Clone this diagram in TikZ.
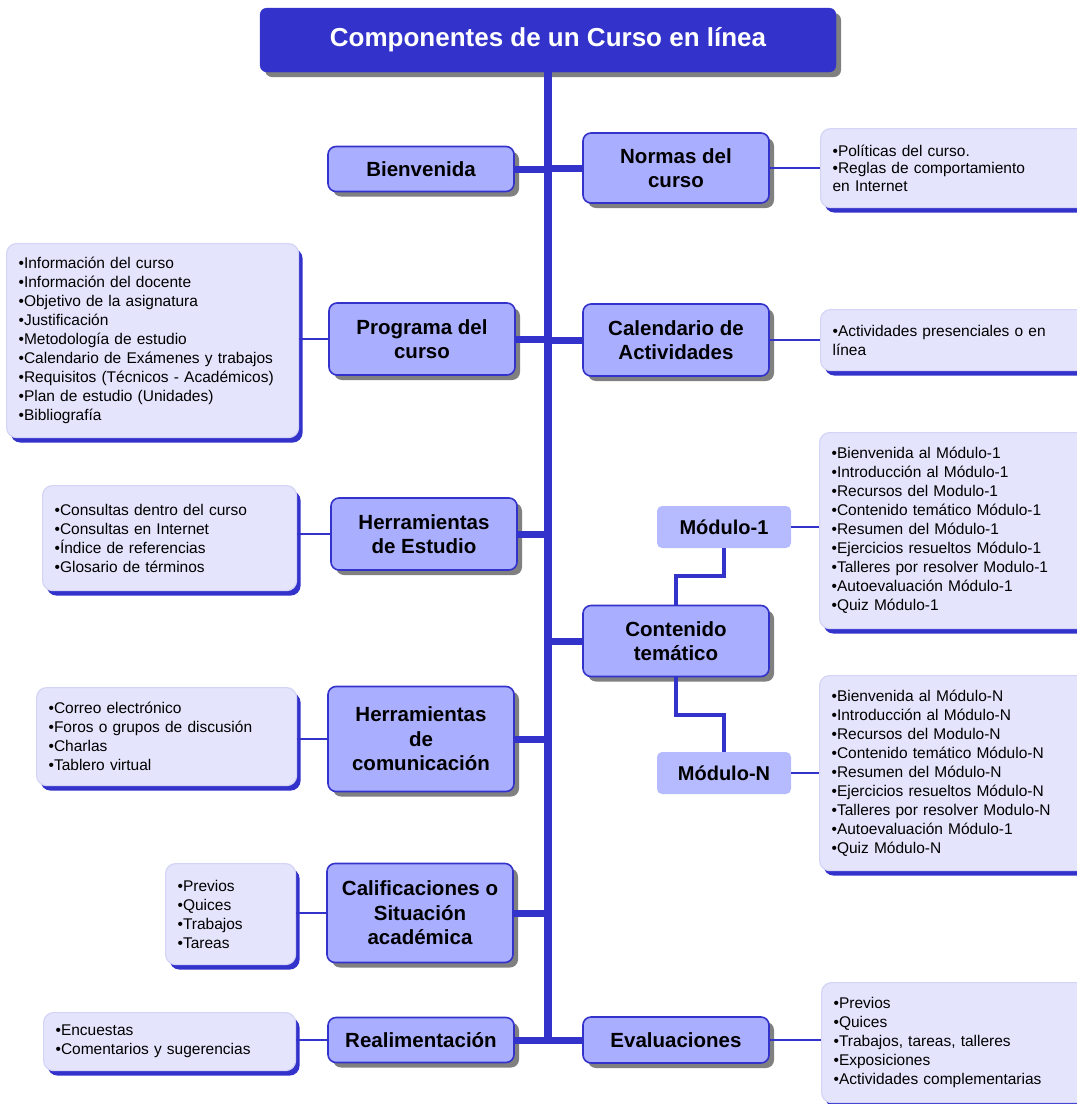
\documentclass[tikz,border=0pt]{standalone}
\usepackage{fontspec}
\setmainfont{Liberation Sans}
\usetikzlibrary{shadows,calc}

\definecolor{tblue}{RGB}{51,51,204}
\definecolor{mainfill}{RGB}{170,174,255}
\definecolor{modfill}{RGB}{182,186,255}
\definecolor{infofill}{RGB}{228,228,252}
\definecolor{infoline}{RGB}{212,212,246}
\definecolor{shadowgray}{RGB}{128,128,128}

\tikzset{
    titlebox/.style={fill=tblue, draw=tblue, rounded corners=7pt, text=white,
        minimum width=576pt, minimum height=64pt,
        font=\fontsize{26}{30}\selectfont\bfseries,
        drop shadow={shadow xshift=5pt, shadow yshift=-5pt, fill=shadowgray, opacity=1}},
    mainbox/.style={draw=tblue, line width=1.6pt, fill=mainfill, rounded corners=8pt,
        align=center, minimum width=186pt, inner sep=4pt,
        font=\fontsize{20.5}{24.5}\selectfont\bfseries,
        drop shadow={shadow xshift=5pt, shadow yshift=-5pt, fill=shadowgray, opacity=1}},
    modbox/.style={fill=modfill, rounded corners=5pt, minimum width=134pt, minimum height=42pt,
        font=\fontsize{20}{24}\selectfont\bfseries},
    infobox/.style={draw=infoline, line width=1.2pt, fill=infofill, rounded corners=10pt,
        align=left, inner xsep=12pt, inner ysep=4pt, anchor=north west,
        font=\fontsize{15.5}{19}\selectfont,
        drop shadow={shadow xshift=4pt, shadow yshift=-5pt, fill=tblue, opacity=1}},
    trunk/.style={tblue, line width=8pt, line cap=rect},
    branch/.style={tblue, line width=7pt},
    stem/.style={tblue, line width=4pt},
    twig/.style={tblue, line width=2pt},
}

\begin{document}
\begin{tikzpicture}[x=1pt, y=-1pt]
    \useasboundingbox (0,0) rectangle (1077,1104);

    % title and trunk
    \node[titlebox] (title) at (548,40) {Componentes de un Curso en línea};
    \coordinate (trunkend) at (548,1040);
    \draw[trunk] (title.south) -- (trunkend);

    % left column
    \node[mainbox, minimum height=45pt]  (bienvenida)     at (421,169)  {Bienvenida};
    \node[mainbox, minimum height=72pt]  (programa)       at (422,339)  {Programa del\\curso};
    \node[mainbox, minimum height=72pt]  (estudio)        at (424,534)  {Herramientas\\de Estudio};
    \node[mainbox, minimum height=105pt] (comunicacion)   at (421,739)  {Herramientas\\de\\comunicación};
    \node[mainbox, minimum height=99pt]  (calificaciones) at (420,913)  {Calificaciones o\\Situación\\académica};
    \node[mainbox, minimum height=45pt]  (realimentacion) at (421,1040) {Realimentación};

    % right column
    \node[mainbox, minimum height=70pt]  (normas)       at (676,168)  {Normas del\\curso};
    \node[mainbox, minimum height=72pt]  (calendario)   at (676,340)  {Calendario de\\Actividades};
    \node[mainbox, minimum height=71pt]  (contenido)    at (676,641)  {Contenido\\temático};
    \node[mainbox, minimum height=46pt]  (evaluaciones) at (676,1040) {Evaluaciones};
    \node[modbox] (modulo1) at (724,527) {Módulo-1};
    \node[modbox] (moduloN) at (724,773) {Módulo-N};

    % detail boxes
    \node[infobox, text width=246pt, minimum height=79pt, font=\fontsize{15.5}{17.5}\selectfont] (normasinfo) at (820,128)
        {•Políticas del curso.\\•Reglas de comportamiento\\en Internet};
    \node[infobox, text width=268pt, minimum height=194pt] (programainfo) at (6,243)
        {•Información del curso\\•Información del docente\\•Objetivo de la asignatura\\•Justificación\\•Metodología de estudio\\•Calendario de Exámenes y trabajos\\•Requisitos (Técnicos - Académicos)\\•Plan de estudio (Unidades)\\•Bibliografía};
    \node[infobox, text width=246pt, minimum height=61pt] (calendarioinfo) at (820,309)
        {•Actividades presenciales o en\\línea};
    \node[infobox, text width=230pt, minimum height=105pt] (estudioinfo) at (42,485)
        {•Consultas dentro del curso\\•Consultas en Internet\\•Índice de referencias\\•Glosario de términos};
    \node[infobox, text width=247pt, minimum height=196pt] (modulo1info) at (819,432)
        {•Bienvenida al Módulo-1\\•Introducción al Módulo-1\\•Recursos del Modulo-1\\•Contenido temático Módulo-1\\•Resumen del Módulo-1\\•Ejercicios resueltos Módulo-1\\•Talleres por resolver Modulo-1\\•Autoevaluación Módulo-1\\•Quiz Módulo-1};
    \node[infobox, text width=247pt, minimum height=195pt] (moduloNinfo) at (819,675)
        {•Bienvenida al Módulo-N\\•Introducción al Módulo-N\\•Recursos del Modulo-N\\•Contenido temático Módulo-N\\•Resumen del Módulo-N\\•Ejercicios resueltos Módulo-N\\•Talleres por resolver Modulo-N\\•Autoevaluación Módulo-1\\•Quiz Módulo-N};
    \node[infobox, text width=236pt, minimum height=98pt] (comunicacioninfo) at (36,687)
        {•Correo electrónico\\•Foros o grupos de discusión\\•Charlas\\•Tablero virtual};
    \node[infobox, text width=106pt, minimum height=101pt] (calificacionesinfo) at (165,863)
        {•Previos\\•Quices\\•Trabajos\\•Tareas};
    \node[infobox, text width=228pt, minimum height=58pt] (realimentacioninfo) at (43,1012)
        {•Encuestas\\•Comentarios y sugerencias};
    \node[infobox, text width=246pt, minimum height=120pt] (evaluacionesinfo) at (821,982)
        {•Previos\\•Quices\\•Trabajos, tareas, talleres\\•Exposiciones\\•Actividades complementarias};

    % thick branches to the trunk
    \draw[branch] (bienvenida.east) -- (bienvenida.east -| trunkend);
    \draw[branch] (programa.east) -- (programa.east -| trunkend);
    \draw[branch] (estudio.east) -- (estudio.east -| trunkend);
    \draw[branch] (comunicacion.east) -- (comunicacion.east -| trunkend);
    \draw[branch] (calificaciones.east) -- (calificaciones.east -| trunkend);
    \draw[branch] (normas.west) -- (normas.west -| trunkend);
    \draw[branch] (calendario.west) -- (calendario.west -| trunkend);
    \draw[branch] (contenido.west) -- (contenido.west -| trunkend);
    \draw[branch] (realimentacion.east) -- (evaluaciones.west);

    % modules
    \draw[stem] (modulo1.south) |- ($(modulo1.south)!0.5!(contenido.north)$) -| (contenido.north);
    \draw[stem] (contenido.south) |- ($(contenido.south)!0.5!(moduloN.north)$) -| (moduloN.north);

    % thin links to the detail boxes
    \draw[twig] (normas.east) -- (normas.east -| normasinfo.west);
    \draw[twig] (calendario.east) -- (calendario.east -| calendarioinfo.west);
    \draw[twig] (modulo1.east) -- (modulo1.east -| modulo1info.west);
    \draw[twig] (moduloN.east) -- (moduloN.east -| moduloNinfo.west);
    \draw[twig] (evaluaciones.east) -- (evaluaciones.east -| evaluacionesinfo.west);
    \draw[twig] (programa.west) -- (programa.west -| programainfo.east);
    \draw[twig] (estudio.west) -- (estudio.west -| estudioinfo.east);
    \draw[twig] (comunicacion.west) -- (comunicacion.west -| comunicacioninfo.east);
    \draw[twig] (calificaciones.west) -- (calificaciones.west -| calificacionesinfo.east);
    \draw[twig] (realimentacion.west) -- (realimentacion.west -| realimentacioninfo.east);
\end{tikzpicture}
\end{document}
